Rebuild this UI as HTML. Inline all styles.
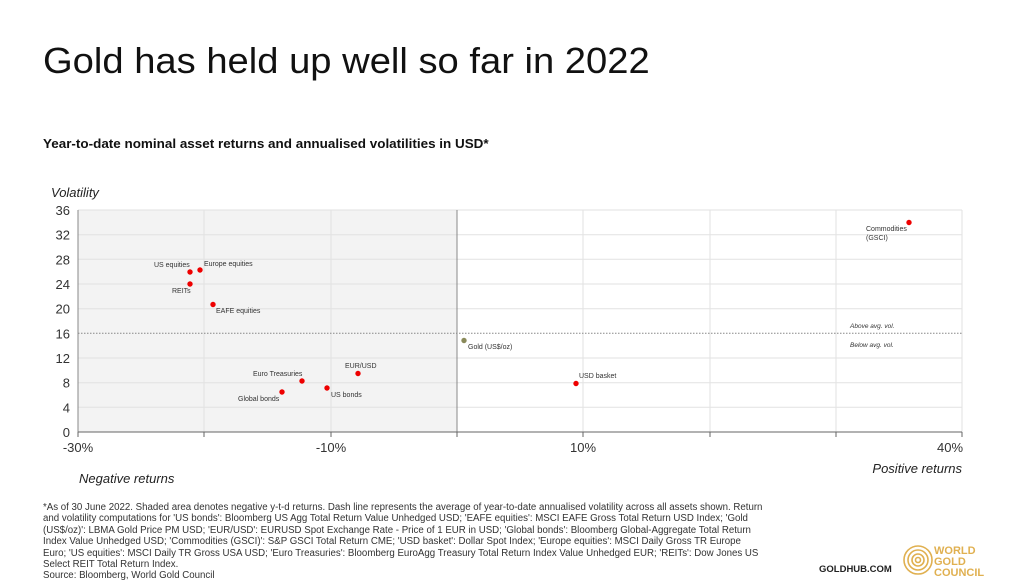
<!DOCTYPE html>
<html><head><meta charset="utf-8"><style>
body{margin:0;width:1024px;height:576px;background:#fff;font-family:"Liberation Sans","DejaVu Sans",sans-serif;overflow:hidden;position:relative}
.t{position:absolute;left:43px;top:40px;font-size:36px;color:#111;transform-origin:0 0;transform:scaleX(1.06)}
.s{position:absolute;left:43px;top:136px;font-size:13px;font-weight:bold;color:#111;transform-origin:0 0;transform:scaleX(1.035)}
.n{position:absolute;left:43px;top:502px;width:720px;font-size:9.7px;line-height:11.4px;color:#333}
</style></head><body>
<div class="t">Gold has held up well so far in 2022</div>
<div class="s">Year-to-date nominal asset returns and annualised volatilities in USD*</div>
<svg width="1024" height="576" style="position:absolute;left:0;top:0" font-family="Liberation Sans, DejaVu Sans, sans-serif">
<rect x="78" y="210" width="379" height="222" fill="#f3f3f3"/>
<g stroke="#e2e2e2" stroke-width="1">
<line x1="78" x2="962" y1="210" y2="210"/><line x1="78" x2="962" y1="234.7" y2="234.7"/><line x1="78" x2="962" y1="259.3" y2="259.3"/><line x1="78" x2="962" y1="284" y2="284"/><line x1="78" x2="962" y1="308.7" y2="308.7"/><line x1="78" x2="962" y1="358" y2="358"/><line x1="78" x2="962" y1="382.7" y2="382.7"/><line x1="78" x2="962" y1="407.3" y2="407.3"/>
<line x1="204" x2="204" y1="210" y2="432"/><line x1="331" x2="331" y1="210" y2="432"/><line x1="583" x2="583" y1="210" y2="432"/><line x1="710" x2="710" y1="210" y2="432"/><line x1="836" x2="836" y1="210" y2="432"/><line x1="962" x2="962" y1="210" y2="432"/>
</g>
<line x1="457" x2="457" y1="210" y2="432" stroke="#888"/>
<line x1="78" x2="962" y1="333.3" y2="333.3" stroke="#888" stroke-dasharray="1.5,1.5"/>
<line x1="78" x2="78" y1="210" y2="432" stroke="#888"/>
<line x1="78" x2="962" y1="432" y2="432" stroke="#666"/>
<g stroke="#666"><line x1="78" x2="78" y1="432" y2="437"/><line x1="204" x2="204" y1="432" y2="437"/><line x1="331" x2="331" y1="432" y2="437"/><line x1="457" x2="457" y1="432" y2="437"/><line x1="583" x2="583" y1="432" y2="437"/><line x1="710" x2="710" y1="432" y2="437"/><line x1="836" x2="836" y1="432" y2="437"/><line x1="962" x2="962" y1="432" y2="437"/></g>
<g font-size="13" fill="#333" text-anchor="end">
<text x="70" y="215">36</text><text x="70" y="239.7">32</text><text x="70" y="264.3">28</text><text x="70" y="289">24</text><text x="70" y="313.7">20</text><text x="70" y="338.3">16</text><text x="70" y="363">12</text><text x="70" y="387.7">8</text><text x="70" y="412.3">4</text><text x="70" y="437">0</text>
</g>
<g font-size="13" fill="#333" text-anchor="middle">
<text x="78" y="452">-30%</text><text x="331" y="452">-10%</text><text x="583" y="452">10%</text><text x="950" y="452">40%</text>
</g>
<text x="51" y="197" font-size="13" font-style="italic" fill="#222">Volatility</text>
<text x="79" y="483" font-size="13" font-style="italic" fill="#222">Negative returns</text>
<text x="962" y="473" font-size="13" font-style="italic" fill="#222" text-anchor="end">Positive returns</text>
<g fill="#e00">
<circle cx="190" cy="272" r="2.7"/><circle cx="200" cy="270" r="2.7"/><circle cx="190" cy="284" r="2.7"/><circle cx="213" cy="304.5" r="2.7"/>
<circle cx="302" cy="381" r="2.7"/><circle cx="282" cy="392" r="2.7"/><circle cx="327" cy="388" r="2.7"/><circle cx="358" cy="373.5" r="2.7"/>
<circle cx="576" cy="383.5" r="2.7"/><circle cx="909" cy="222.5" r="2.7"/>
</g>
<circle cx="464" cy="340.5" r="2.7" fill="#8a8a5a"/>
<g font-size="7" fill="#333">
<text x="154" y="267">US equities</text><text x="204" y="266">Europe equities</text><text x="172" y="293">REITs</text><text x="216" y="313">EAFE equities</text>
<text x="253" y="376">Euro Treasuries</text><text x="238" y="401">Global bonds</text><text x="331" y="397">US bonds</text><text x="345" y="368">EUR/USD</text>
<text x="579" y="378">USD basket</text><text x="468" y="349">Gold (US$/oz)</text>
<text x="866" y="231">Commodities</text><text x="866" y="240">(GSCI)</text>
<text x="850" y="328" font-style="italic" font-size="6.5">Above avg. vol.</text><text x="850" y="347" font-style="italic" font-size="6.5">Below avg. vol.</text>
</g>
<text x="819" y="572" font-size="9.5" font-weight="bold" fill="#222">GOLDHUB.COM</text>
<g fill="none" stroke="#e0b050" stroke-width="1.6"><circle cx="918" cy="560" r="14"/><circle cx="918" cy="560" r="10"/><circle cx="918" cy="560" r="6"/><circle cx="918" cy="560" r="2.5"/></g>
<g font-size="11" fill="#e0b050" font-weight="bold"><text x="934" y="554">WORLD</text><text x="934" y="565">GOLD</text><text x="934" y="576">COUNCIL</text></g>
</svg>
<div class="n">*As of 30 June 2022. Shaded area denotes negative y-t-d returns. Dash line represents the average of year-to-date annualised volatility across all assets shown. Return and volatility computations for 'US bonds': Bloomberg US Agg Total Return Value Unhedged USD; 'EAFE equities': MSCI EAFE Gross Total Return USD Index; 'Gold (US$/oz)': LBMA Gold Price PM USD; 'EUR/USD': EURUSD Spot Exchange Rate - Price of 1 EUR in USD; 'Global bonds': Bloomberg Global-Aggregate Total Return Index Value Unhedged USD; 'Commodities (GSCI)': S&amp;P GSCI Total Return CME; 'USD basket': Dollar Spot Index; 'Europe equities': MSCI Daily Gross TR Europe Euro; 'US equities': MSCI Daily TR Gross USA USD; 'Euro Treasuries': Bloomberg EuroAgg Treasury Total Return Index Value Unhedged EUR; 'REITs': Dow Jones US Select REIT Total Return Index.<br>Source: Bloomberg, World Gold Council</div>
</body></html>
